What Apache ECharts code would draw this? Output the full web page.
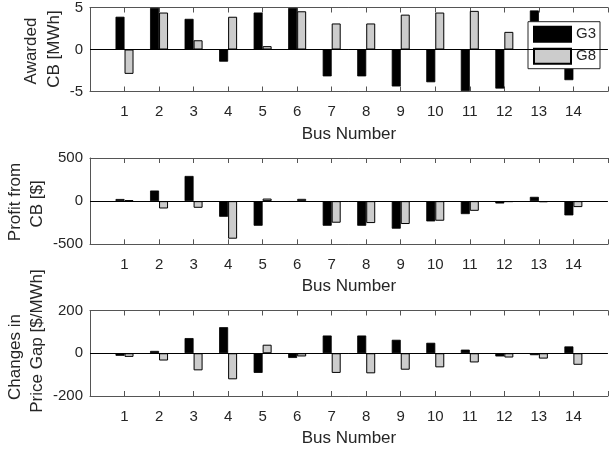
<!DOCTYPE html>
<html>
<head>
<meta charset="utf-8">
<script src="https://cdn.jsdelivr.net/npm/echarts@6/dist/echarts.min.js"></script>
<style>
html,body{margin:0;padding:0;background:#fff;}
#chart{width:613px;height:453px;}
</style>
</head>
<body>
<div id="chart"></div>
<script>
// ---- data ----
const buses = ['1','2','3','4','5','6','7','8','9','10','11','12','13','14'];
const seriesNames = ['G3', 'G8'];
const g3Awarded = [3.9, 4.95, 3.65, -1.45, 4.4, 4.95, -3.2, -3.2, -4.4, -3.9, -4.95, -4.65, 4.65, -3.65];
const g8Awarded = [-2.9, 4.4, 1.1, 3.9, 0.4, 4.55, 3.1, 3.1, 4.15, 4.4, 4.6, 2.1, 1.5, 1.0];
const g3Profit = [25, 123, 292, -181, -285, -8, -285, -285, -319, -235, -150, -27, 50, -165];
const g8Profit = [10, -85, -77, -435, 30, 27, -250, -254, -265, -227, -112, -10, -12, -69];
const g3Price = [-12, 11, 71, 122, -92, -22, 83, 83, 63, 49, 17, -15, -9, 32];
const g8Price = [-17, -34, -80, -122, 40, -15, -92, -94, -77, -66, -43, -20, -25, -54];
const yRanges = [[-5, 5, 5], [-500, 500, 500], [-200, 200, 200]];
const xTitle = 'Bus Number';

// ---- build ----
const FONT = 'Liberation Sans, Arial, Helvetica, sans-serif';
const AX = '#555555';
const TXT = '#262626';
const xCats = [''].concat(buses).concat([' ']);
const pad = arr => ['-'].concat(arr).concat(['-']);

const panels = [
  {g3: g3Awarded, g8: g8Awarded, top: 5, height: 86.5},
  {g3: g3Profit, g8: g8Profit, top: 158, height: 86.3},
  {g3: g3Price, g8: g8Price, top: 310.5, height: 85.5}
];

const grid = [], xAxis = [], yAxis = [], series = [];
panels.forEach((p, i) => {
  grid.push({left: 90, width: 525, top: p.top, height: p.height, containLabel: false});
  xAxis.push({
    type: 'category', gridIndex: i, data: xCats, boundaryGap: false, position: 'bottom',
    axisLine: {show: true, onZero: false, lineStyle: {color: AX, width: 1}},
    axisTick: {show: true, inside: true, length: 5, interval: 0, lineStyle: {color: AX}},
    axisLabel: {show: true, interval: 0, fontSize: 15, margin: 13, color: TXT, fontFamily: FONT},
    splitLine: {show: false},
    name: xTitle, nameLocation: 'middle', nameGap: 34,
    nameTextStyle: {fontSize: 17, color: TXT, fontFamily: FONT}
  });
  xAxis.push({
    type: 'category', gridIndex: i, data: xCats, boundaryGap: false, position: 'top',
    axisLine: {show: true, onZero: false, lineStyle: {color: AX, width: 1}},
    axisTick: {show: true, inside: true, length: 5, interval: 0, lineStyle: {color: AX}},
    axisLabel: {show: false}, splitLine: {show: false}
  });
  const r = yRanges[i];
  yAxis.push({
    type: 'value', gridIndex: i, min: r[0], max: r[1], interval: r[2],
    axisLine: {show: true, lineStyle: {color: AX, width: 1}},
    axisTick: {show: false},
    axisLabel: {fontSize: 15, margin: 7, color: TXT, fontFamily: FONT},
    splitLine: {show: false}
  });
  series.push({
    name: seriesNames[0], type: 'bar', xAxisIndex: 2 * i, yAxisIndex: i,
    data: pad(p.g3), barWidth: 9, barGap: '0%',
    itemStyle: {color: '#000000', borderColor: '#000000', borderWidth: 0.8},
    animation: false
  });
  series.push({
    name: seriesNames[1], type: 'bar', xAxisIndex: 2 * i, yAxisIndex: i,
    data: pad(p.g8), barWidth: 9, barGap: '0%',
    itemStyle: {color: '#cccccc', borderColor: '#000000', borderWidth: 1},
    markLine: {
      silent: true, symbol: 'none', animation: false,
      label: {show: false},
      lineStyle: {color: '#000000', width: 1, type: 'solid'},
      data: [{yAxis: 0}]
    },
    animation: false
  });
});

function vtext(text, x, y) {
  return {
    type: 'text', x: x, y: y, rotation: Math.PI / 2,
    style: {text: text, font: '17px ' + FONT, fill: TXT, align: 'center', verticalAlign: 'middle'}
  };
}

const option = {
  backgroundColor: '#ffffff',
  animation: false,
  grid: grid, xAxis: xAxis, yAxis: yAxis, series: series,
  legend: {
    data: seriesNames, orient: 'vertical', left: 528, top: 21.7,
    itemWidth: 37, itemHeight: 15, itemGap: 5,
    padding: [4, 4, 4, 5], backgroundColor: '#ffffff',
    borderColor: '#262626', borderWidth: 1, icon: 'rect',
    textStyle: {fontSize: 15, color: TXT, fontFamily: FONT, lineHeight: 15},
    selectedMode: false
  },
  graphic: [
    vtext('Awarded', 31, 51),
    vtext('CB [MWh]', 54, 49),
    vtext('Profit from', 15, 202),
    vtext('CB [$]', 37, 204),
    vtext('Changes in', 15, 357),
    vtext('Price Gap [$/MWh]', 37, 341)
  ]
};

const chart = echarts.init(document.getElementById('chart'), null, {renderer: 'canvas'});
chart.setOption(option);
</script>
</body>
</html>
